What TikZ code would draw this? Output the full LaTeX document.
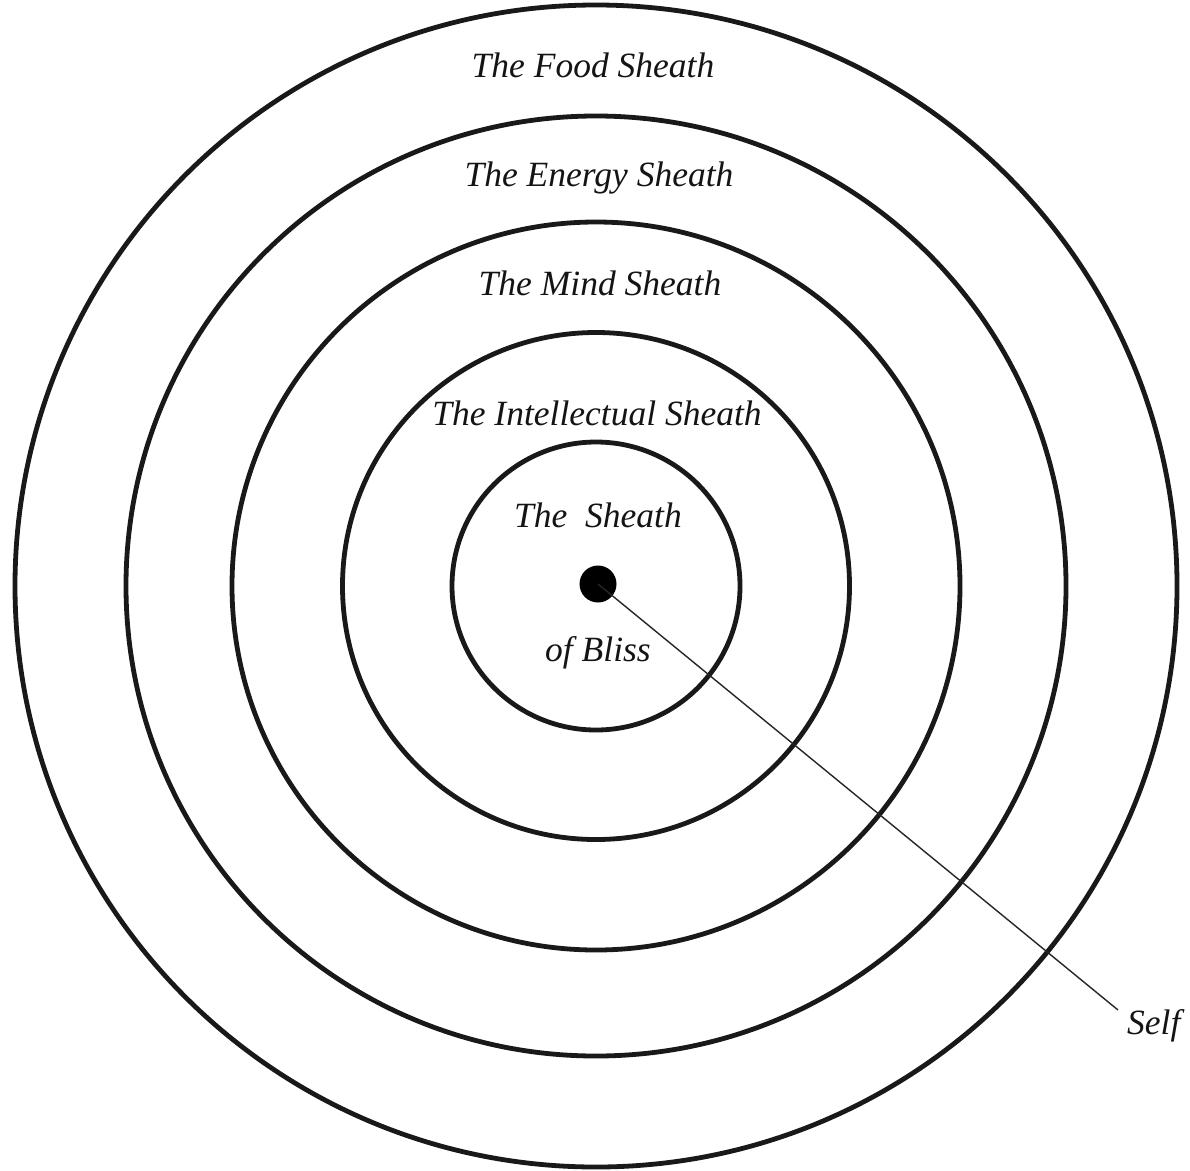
\documentclass[tikz,border=0pt]{standalone}
\usepackage{fontspec}
\setmainfont{Liberation Serif}
\begin{document}
\begin{tikzpicture}[x=1pt,y=-1pt,
  ring/.style={draw=black!90, line width=4.8pt},
  lbl/.style={font=\fontsize{35.5}{42}\selectfont\itshape, text=black!92, inner sep=0pt},
  lead/.style={draw=black!85, line width=1.4pt}]
\useasboundingbox (0,0) rectangle (1190,1170);
\fill[white] (0,0) rectangle (1190,1170);
\coordinate (c) at (596,586);
\draw[ring] (c) circle (581);
\draw[ring] (c) circle (470);
\draw[ring] (c) circle (364);
\draw[ring] (c) circle (253.5);
\draw[ring] (c) circle (144);
\node[circle, fill=black, inner sep=0pt, minimum size=37pt] (self dot) at (598,584) {};
\node[lbl] (food) at (593,65) {The Food Sheath};
\node[lbl] (energy) at (599,178) {The Energy Sheath};
\node[lbl] (mind) at (600,283) {The Mind Sheath};
\node[lbl] (intel) at (597,413) {The Intellectual Sheath};
\node[lbl] (bliss1) at (598,515) {The\ \ Sheath};
\node[lbl] (bliss2) at (598,653) {of Bliss};
\node[lbl, anchor=west] (self) at (1127,1026) {Self};
\coordinate (leadend) at (1118,1010);
\draw[lead] (self dot.center) -- (leadend);
\end{tikzpicture}
\end{document}
